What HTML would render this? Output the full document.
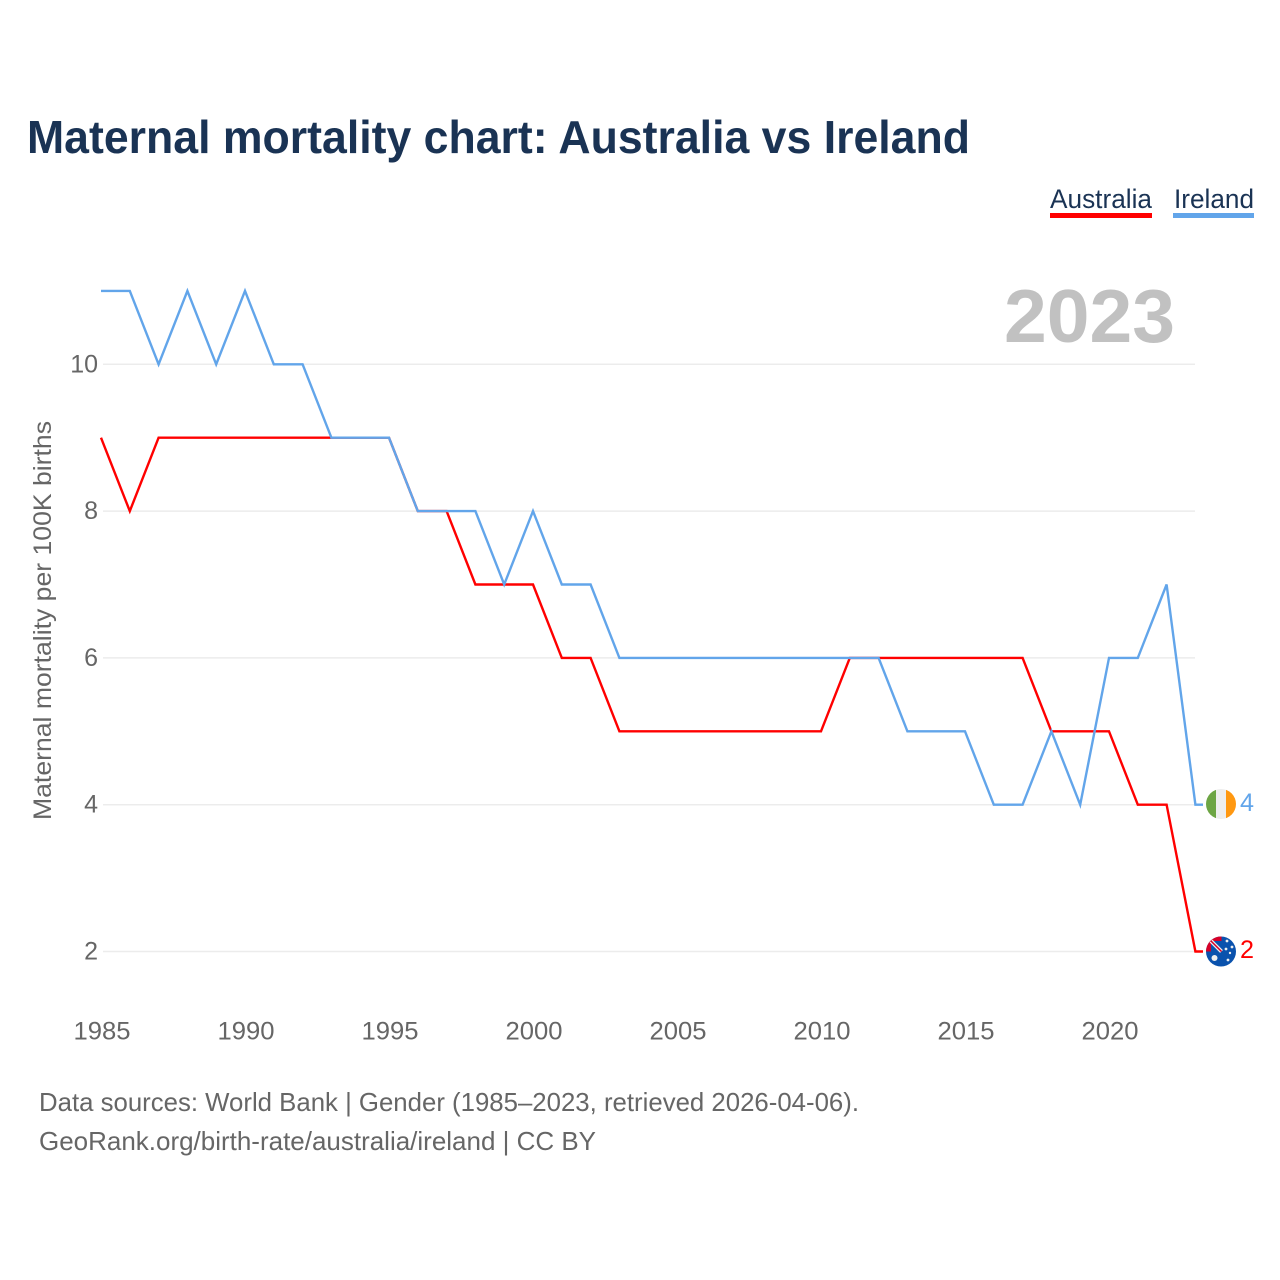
<!DOCTYPE html>
<html lang="en">
<head>
<meta charset="utf-8">
<title>Maternal mortality chart: Australia vs Ireland</title>
<style>
html,body{margin:0;padding:0;background:#fff;width:1280px;height:1280px;overflow:hidden}
svg{display:block}
text{font-family:"Liberation Sans",sans-serif}
</style>
</head>
<body>
<svg id="chart" xmlns="http://www.w3.org/2000/svg" width="1280" height="1280" viewBox="0 0 1280 1280">
  <defs>
    <clipPath id="flag-clip-ie"><circle cx="1221" cy="804" r="15"/></clipPath>
    <clipPath id="flag-clip-au"><circle cx="1221" cy="951.5" r="15"/></clipPath>
  </defs>
  <rect width="1280" height="1280" fill="#fff"/>

  <text x="27" y="153" font-size="46" font-weight="700" fill="#1a3354" textLength="943" lengthAdjust="spacingAndGlyphs">Maternal mortality chart: Australia vs Ireland</text>

  <g>
    <text x="1050" y="208" font-size="27" fill="#1a3354" textLength="102" lengthAdjust="spacingAndGlyphs">Australia</text>
    <rect x="1050" y="213" width="102" height="5" fill="#ff0000"/>
  </g>
  <g>
    <text x="1174" y="208" font-size="27" fill="#1a3354" textLength="80" lengthAdjust="spacingAndGlyphs">Ireland</text>
    <rect x="1173" y="213" width="81" height="5" fill="#62a5ea"/>
  </g>

  <g id="grid"></g>
  <g id="yticks"></g>
  <g id="xticks"></g>

  <text x="1004" y="342" font-size="75" font-weight="700" fill="#c1c1c1" textLength="171" lengthAdjust="spacingAndGlyphs">2023</text>

  <text transform="translate(51,820) rotate(-90)" font-size="25" fill="#666" textLength="399" lengthAdjust="spacingAndGlyphs">Maternal mortality per 100K births</text>

  <g id="series"></g>

  <g clip-path="url(#flag-clip-ie)">
    <rect x="1206" y="789" width="10" height="30" fill="#6da544"/>
    <rect x="1216" y="789" width="10" height="30" fill="#eeeeee"/>
    <rect x="1226" y="789" width="10" height="30" fill="#ff9811"/>
  </g>
  <g clip-path="url(#flag-clip-au)">
    <rect x="1206" y="936.5" width="30" height="30" fill="#0a52ad"/>
    <rect x="1206" y="936.5" width="15.5" height="15" fill="#d80027"/>
    <rect x="1211" y="941" width="10.5" height="10.5" fill="#0a52ad"/>
    <path d="M1211 941l10.5 10.5" stroke="#eeeeee" stroke-width="4" fill="none"/>
    <path d="M1211 941l10.5 10.5" stroke="#d80027" stroke-width="1.5" fill="none"/>
    <circle cx="1214.5" cy="958" r="3" fill="#eee"/>
    <circle cx="1227" cy="941" r="1.4" fill="#eee"/>
    <circle cx="1232" cy="947" r="1.4" fill="#eee"/>
    <circle cx="1226" cy="949" r="1.4" fill="#eee"/>
    <circle cx="1230" cy="953" r="1.2" fill="#eee"/>
    <circle cx="1228" cy="960" r="1.4" fill="#eee"/>
  </g>
  <text x="1240" y="811" font-size="25" fill="#62a5ea" textLength="14" lengthAdjust="spacingAndGlyphs">4</text>
  <text x="1240" y="958" font-size="25" fill="#ff0000" textLength="14" lengthAdjust="spacingAndGlyphs">2</text>

  <text x="39" y="1111" font-size="26" fill="#666" textLength="820" lengthAdjust="spacingAndGlyphs">Data sources: World Bank | Gender (1985–2023, retrieved 2026-04-06).</text>
  <text x="39" y="1150" font-size="26" fill="#666" textLength="557" lengthAdjust="spacingAndGlyphs">GeoRank.org/birth-rate/australia/ireland | CC BY</text>
</svg>
<script>
const years = [1985,1986,1987,1988,1989,1990,1991,1992,1993,1994,1995,1996,1997,1998,1999,2000,2001,2002,2003,2004,2005,2006,2007,2008,2009,2010,2011,2012,2013,2014,2015,2016,2017,2018,2019,2020,2021,2022,2023];
const australia = [9,8,9,9,9,9,9,9,9,9,9,8,8,7,7,7,6,6,5,5,5,5,5,5,5,5,6,6,6,6,6,6,6,5,5,5,4,4,2];
const ireland = [11,11,10,11,10,11,10,10,9,9,9,8,8,8,7,8,7,7,6,6,6,6,6,6,6,6,6,6,5,5,5,4,4,5,4,6,6,7,4];
const yTickValues = [2,4,6,8,10];
const xTickValues = [1985,1990,1995,2000,2005,2010,2015,2020];

const NS = 'http://www.w3.org/2000/svg';
function xScale(year) { return 101 + (year - 1985) * 28.8; }
function yScale(value) { return 951.5 - (value - 2) * 73.4; }
function make(tag, attrs, parent) {
  const el = document.createElementNS(NS, tag);
  Object.keys(attrs).forEach(function (k) { el.setAttribute(k, attrs[k]); });
  parent.appendChild(el);
  return el;
}

const gridGroup = document.getElementById('grid');
const yGroup = document.getElementById('yticks');
const xGroup = document.getElementById('xticks');
const seriesGroup = document.getElementById('series');

yTickValues.forEach(function (v) {
  const line = make('line', {x1: 103, x2: 1195, y1: yScale(v), y2: yScale(v), stroke: '#ececec', 'stroke-width': 1.5}, gridGroup);
  
  
  const label = make('text', {x: 98, y: yScale(v) + 8, 'font-size': 25, fill: '#666', 'text-anchor': 'end'}, yGroup);
  
  
  label.textContent = v;
});

xTickValues.forEach(function (year) {
  const label = make('text', {x: xScale(year) + 1, y: 1039.5, 'font-size': 25, fill: '#666', 'text-anchor': 'middle', textLength: 57, lengthAdjust: 'spacingAndGlyphs'}, xGroup);
  
  
  label.textContent = year;
});

function drawSeries(values, color, name) {
  let d = values.map(function (v, i) {
    return (i ? 'L' : 'M') + xScale(years[i]).toFixed(1) + ' ' + yScale(v).toFixed(1);
  }).join(' ');
  d += ' H1203';
  const path = make('path', {d: d, fill: 'none', stroke: color, 'stroke-width': 2.4, 'stroke-linejoin': 'miter'}, seriesGroup);
  
  
}
drawSeries(australia, '#ff0000', 'line-australia');
drawSeries(ireland, '#62a5ea', 'line-ireland');
</script>
</body>
</html>
